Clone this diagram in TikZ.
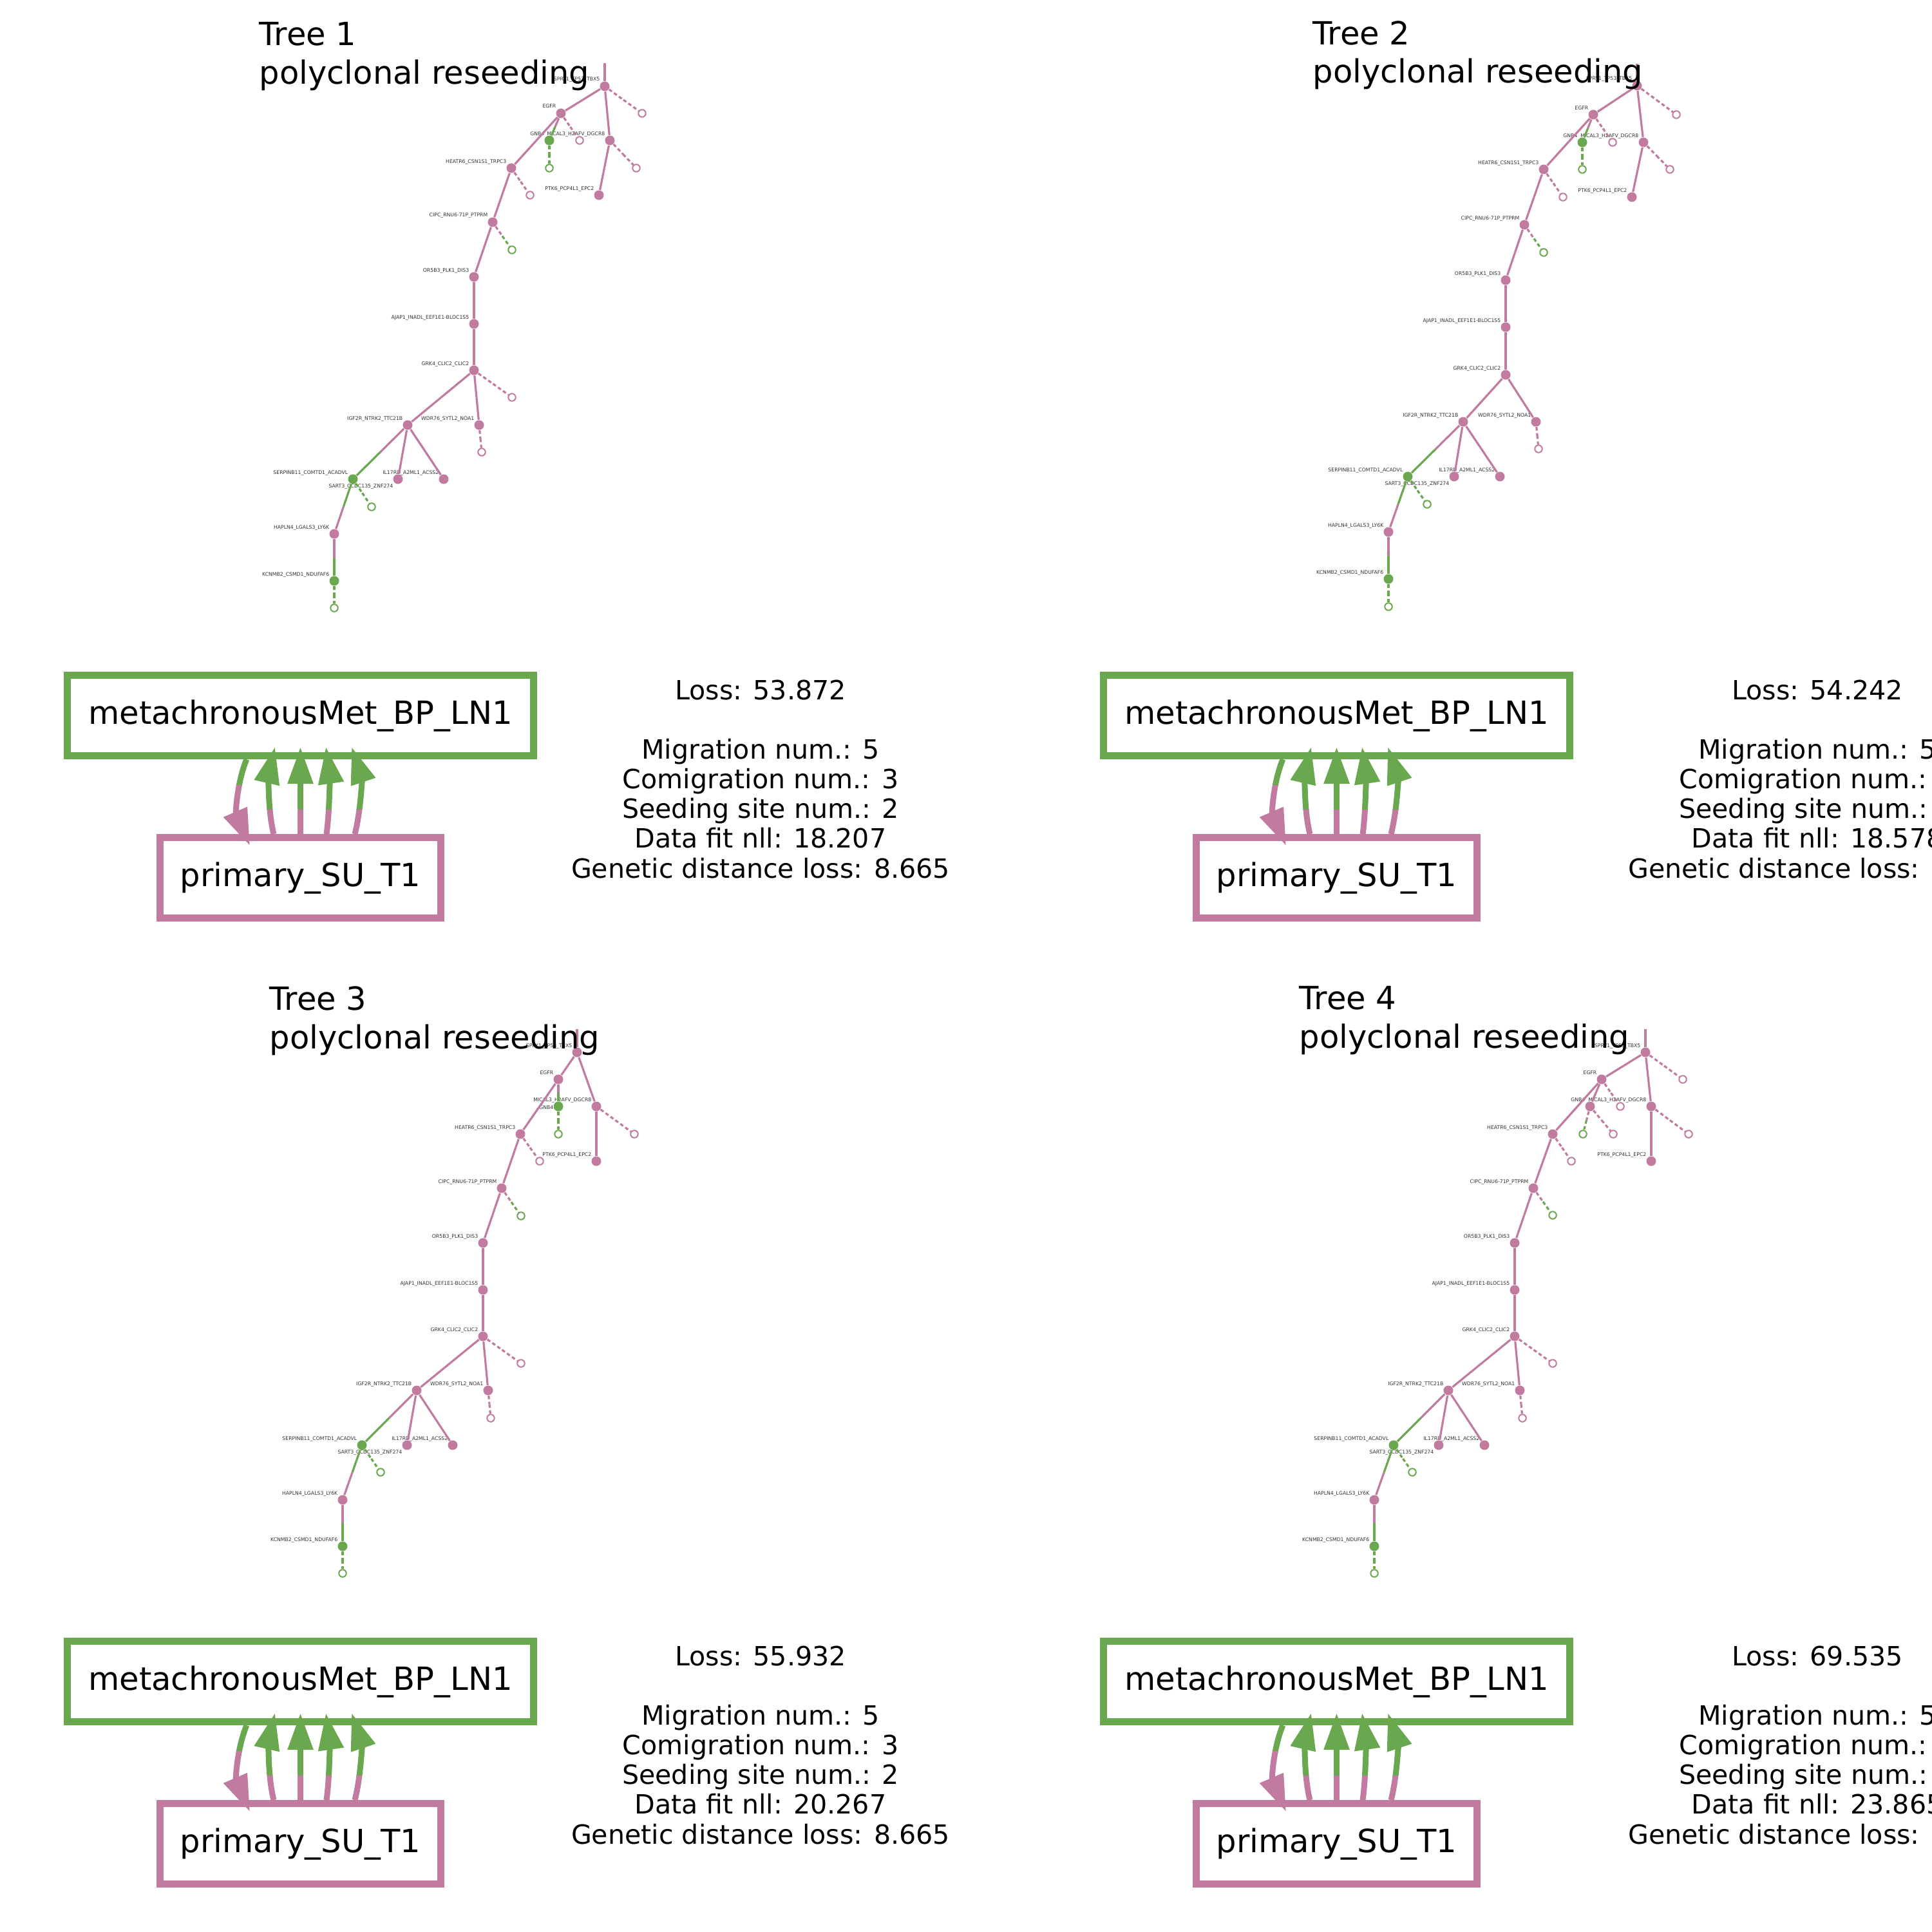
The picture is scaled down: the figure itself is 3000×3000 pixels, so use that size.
\documentclass[tikz,border=0pt]{standalone}
\usepackage{fontspec}
\setmainfont{DejaVu Sans}
\usetikzlibrary{arrows.meta, positioning, calc}
\definecolor{primcol}{HTML}{C27BA0}
\definecolor{metcol}{HTML}{6AA84F}
\pgfdeclarelayer{bg}
\pgfdeclarelayer{lbl}
\pgfdeclarelayer{edge}
\pgfsetlayers{bg,lbl,edge,main}

% gene labels shared by all clone trees
\newcommand{\genelabels}{spry/SPRY1\_TP53\_TBX5, egfr/EGFR, mical/MICAL3\_H2AFV\_DGCR8,
  ptk/PTK6\_PCP4L1\_EPC2, heat/HEATR6\_CSN1S1\_TRPC3, cipc/CIPC\_RNU6-71P\_PTPRM,
  orb/OR5B3\_PLK1\_DIS3, ajap/AJAP1\_INADL\_EEF1E1-BLOC1S5, grk/GRK4\_CLIC2\_CLIC2,
  igf/IGF2R\_NTRK2\_TTC21B, wdr/WDR76\_SYTL2\_NOA1, serp/SERPINB11\_COMTD1\_ACADVL,
  ilr/IL17RD\_A2ML1\_ACSS2, hap/HAPLN4\_LGALS3\_LY6K, kcn/KCNMB2\_CSMD1\_NDUFAF6}

% edge in two halves: from, to, colour of first half, colour of second half, style
\newcommand{\tedge}[5]{%
  \draw[#5,color=#3] (#1) -- ($(#1)!0.5!(#2)$);
  \draw[#5,color=#4] ($(#1)!0.5!(#2)$) -- (#2);}

% labels of a tree: prefix, vertical offset of the GNB4 label
\newcommand{\treelabels}[2]{%
  \begin{pgfonlayer}{lbl}
    \foreach \n/\gene in \genelabels
      \node[genelabel] at ($(#1-\n)+(-7,-8)$) {\gene};
    \node[genelabel] at ($(#1-sart)+(-7,13)$) {SART3\_CCDC135\_ZNF274};
    \node[genelabel] at ($(#1-gnb)+(-7,#2)$) {GNB4};
  \end{pgfonlayer}}

% solid branches of a tree: prefix, colour of GNB4
\newcommand{\treeedges}[2]{%
  \begin{pgfonlayer}{edge}
    \draw[branch,primcol] (#1-root) -- (#1-spry);
    \foreach \pa/\ch/\ca/\cb in {spry/egfr/primcol/primcol, spry/mical/primcol/primcol,
        egfr/gnb/primcol/#2, egfr/heat/primcol/primcol, mical/ptk/primcol/primcol,
        heat/cipc/primcol/primcol, cipc/orb/primcol/primcol, orb/ajap/primcol/primcol,
        ajap/grk/primcol/primcol, grk/igf/primcol/primcol, grk/wdr/primcol/primcol,
        igf/serp/primcol/metcol, igf/sart/primcol/primcol, igf/ilr/primcol/primcol,
        serp/hap/metcol/primcol, hap/kcn/primcol/metcol}
      \tedge{#1-\pa}{#1-\ch}{\ca}{\cb}{branch};
  \end{pgfonlayer}}

% open leaves: prefix, list leaf/parent/x/y/parent colour/leaf colour
\newcommand{\treeleaves}[2]{%
  \foreach \lf/\pa/\x/\y/\cp/\cl in {#2} {
    \node[leaf=\cl] (#1-\lf) at (\x,\y) {};
    \begin{pgfonlayer}{edge}\tedge{#1-\pa}{#1-\lf}{\cp}{\cl}{lost}\end{pgfonlayer}
  }}

% migration arrows between the two sites
\newcommand{\migup}[2]{%
  \foreach \sx/\ex/\ax/\ay/\bx/\by in {-0.415cm/-0.395cm/-11/-45/-8/35,
      0cm/0cm/0/-45/0/45, 0.405cm/0.395cm/6/-45/5/35, 0.845cm/0.795cm/11/-45/15/45}
    \draw[mig,color=#2] ([xshift=\sx]#1-prim.north) .. controls +(\ax,\ay) and +(\bx,\by)
      .. ([xshift=\ex,yshift=0.19cm]#1-met.south);}
\newcommand{\migdown}[2]{%
  \draw[mig,color=#2] ([xshift=-0.835cm]#1-met.south) .. controls +(-15,36) and +(-22,-51)
    .. ([xshift=-0.785cm,yshift=-0.18cm]#1-prim.north);}

% site graph, at the place of the first panel
\newcommand{\migpanel}[1]{%
  \node[site=metcol, minimum width=7.24cm] (#1-met) at (466.5,1111) {metachronousMet\_BP\_LN1};
  \node[site=primcol, minimum width=4.36cm, below=1.16cm of #1-met] (#1-prim) {primary\_SU\_T1};
  \begin{scope}\clip (0,1256) rectangle (1000,1500); \migup{#1}{primcol}\end{scope}
  \begin{scope}\clip (0,1000) rectangle (1000,1256); \migup{#1}{metcol}\end{scope}
  \begin{scope}\clip (0,1218) rectangle (1000,1500); \migdown{#1}{primcol}\end{scope}
  \begin{scope}\clip (0,1000) rectangle (1000,1218); \migdown{#1}{metcol}\end{scope}}

\begin{document}
\begin{tikzpicture}[x=0.01cm, y=-0.01cm,
    clone/.style={circle, fill=#1, inner sep=0pt, minimum size=0.15cm},
    leaf/.style={circle, draw=#1, fill=white, line width=0.02cm, inner sep=0pt, minimum size=0.115cm},
    branch/.style={line width=0.032cm},
    lost/.style={branch, dash pattern=on 0.055cm off 0.04cm},
    genelabel/.style={font=\fontsize{2.2}{2.6}\selectfont, text=black!80, inner sep=0pt, anchor=base east},
    site/.style={draw=#1, line width=0.11cm, minimum height=1.25cm, inner sep=0pt, font=\fontsize{14.1}{16.9}\selectfont},
    mig/.style={line width=0.09cm, -{Triangle[length=0.57cm, width=0.38cm]}},
    title/.style={font=\fontsize{14.1}{16.9}\selectfont, align=left, anchor=base west, inner sep=0pt},
    score/.style={font=\fontsize{11.7}{13.1}\selectfont, align=center, anchor=base, inner sep=0pt}
  ]
  \begin{pgfonlayer}{bg}
    \fill[white] (0,0) rectangle (3000,3000);
  \end{pgfonlayer}
  \useasboundingbox (0,0) rectangle (3000,3000);

  % Tree 1
  \coordinate (t1-root) at (939,98);
  \foreach \n/\x/\y/\col in {spry/939/134/primcol, egfr/871/176/primcol, gnb/853/218/metcol,
      mical/947/218/primcol, ptk/930/303/primcol, heat/794/261/primcol, cipc/765/345/primcol,
      orb/736/430/primcol, ajap/736/503/primcol, grk/736/575/primcol, igf/633/660/primcol,
      wdr/744/660/primcol, serp/548/744/metcol, sart/618/744/primcol, ilr/689/744/primcol,
      hap/519/829/primcol, kcn/519/902/metcol}
    \node[clone=\col] (t1-\n) at (\x,\y) {};
  \treeleaves{t1}{o1/spry/997/176/primcol/primcol, o2/egfr/900/218/primcol/primcol,
      o3/gnb/853/261/metcol/metcol, o4/mical/988/261/primcol/primcol, o5/heat/823/303/primcol/primcol,
      o6/cipc/795/388/primcol/metcol, o7/grk/795/617/primcol/primcol, o8/wdr/748/702/primcol/primcol,
      o9/serp/577/787/metcol/metcol, o10/kcn/519/944/metcol/metcol}
  \treeedges{t1}{metcol}
  \treelabels{t1}{-8}

  % Tree 2
  \coordinate (t2-root) at (2542,99);
  \foreach \n/\x/\y/\col in {spry/2542/133/primcol, egfr/2474/178/primcol, gnb/2457/221/metcol,
      mical/2552/221/primcol, ptk/2534/306/primcol, heat/2397/263/primcol, cipc/2367/349/primcol,
      orb/2338/435/primcol, ajap/2338/508/primcol, grk/2338/582/primcol, igf/2272/655/primcol,
      wdr/2385/655/primcol, serp/2186/740/metcol, sart/2258/740/primcol, ilr/2329/740/primcol,
      hap/2156/826/primcol, kcn/2156/899/metcol}
    \node[clone=\col] (t2-\n) at (\x,\y) {};
  \treeleaves{t2}{o1/spry/2603/178/primcol/primcol, o2/egfr/2504/221/primcol/primcol,
      o3/gnb/2457/263/metcol/metcol, o4/mical/2593/263/primcol/primcol, o5/heat/2427/306/primcol/primcol,
      o6/cipc/2397/392/primcol/metcol, o8/wdr/2389/697/primcol/primcol,
      o9/serp/2216/783/metcol/metcol, o10/kcn/2156/942/metcol/metcol}
  \treeedges{t2}{metcol}
  \treelabels{t2}{-8}

  % Tree 3
  \coordinate (t3-root) at (896,1598);
  \foreach \n/\x/\y/\col in {spry/896/1634/primcol, egfr/867/1676/primcol, gnb/867/1718/metcol,
      mical/926/1718/primcol, ptk/926/1803/primcol, heat/808/1761/primcol, cipc/779/1845/primcol,
      orb/750/1930/primcol, ajap/750/2003/primcol, grk/750/2075/primcol, igf/647/2159/primcol,
      wdr/758/2159/primcol, serp/562/2244/metcol, sart/632/2244/primcol, ilr/703/2244/primcol,
      hap/532/2329/primcol, kcn/532/2401/metcol}
    \node[clone=\col] (t3-\n) at (\x,\y) {};
  \treeleaves{t3}{o3/gnb/867/1761/metcol/metcol, o4/mical/985/1761/primcol/primcol,
      o5/heat/838/1803/primcol/primcol, o6/cipc/809/1888/primcol/metcol, o7/grk/809/2117/primcol/primcol,
      o8/wdr/762/2202/primcol/primcol, o9/serp/591/2286/metcol/metcol, o10/kcn/532/2443/metcol/metcol}
  \treeedges{t3}{metcol}
  \treelabels{t3}{4}

  % Tree 4
  \coordinate (t4-root) at (2555,1598);
  \foreach \n/\x/\y/\col in {spry/2555/1634/primcol, egfr/2487/1676/primcol, gnb/2469/1718/primcol,
      mical/2564/1718/primcol, ptk/2564/1803/primcol, heat/2411/1761/primcol, cipc/2381/1845/primcol,
      orb/2352/1930/primcol, ajap/2352/2003/primcol, grk/2352/2075/primcol, igf/2249/2159/primcol,
      wdr/2360/2159/primcol, serp/2164/2244/metcol, sart/2234/2244/primcol, ilr/2305/2244/primcol,
      hap/2134/2329/primcol, kcn/2134/2401/metcol}
    \node[clone=\col] (t4-\n) at (\x,\y) {};
  \treeleaves{t4}{o1/spry/2613/1676/primcol/primcol, o2/egfr/2516/1718/primcol/primcol,
      o3/gnb/2458/1761/primcol/metcol, o11/gnb/2505/1761/primcol/primcol, o4/mical/2622/1761/primcol/primcol,
      o5/heat/2440/1803/primcol/primcol, o6/cipc/2411/1887/primcol/metcol, o7/grk/2411/2117/primcol/primcol,
      o8/wdr/2364/2202/primcol/primcol, o9/serp/2193/2286/metcol/metcol, o10/kcn/2134/2443/metcol/metcol}
  \treeedges{t4}{primcol}
  \treelabels{t4}{-8}

  % site graphs
  \migpanel{m1}
  \begin{scope}[shift={(1609,0)}] \migpanel{m2} \end{scope}
  \begin{scope}[shift={(0,1500)}] \migpanel{m3} \end{scope}
  \begin{scope}[shift={(1609,1500)}] \migpanel{m4} \end{scope}

  % scores (anchored on the last line)
  \node[score] (t1-score) at (1181,1363) {Loss: 53.872\\[13.1pt]Migration num.: 5\\Comigration num.: 3\\Seeding site num.: 2\\Data fit nll: 18.207\\Genetic distance loss: 8.665};
  \node[score] (t2-score) at (2822,1363) {Loss: 54.242\\[13.1pt]Migration num.: 5\\Comigration num.: 3\\Seeding site num.: 2\\Data fit nll: 18.578\\Genetic distance loss: 8.665};
  \node[score] (t3-score) at (1181,2863) {Loss: 55.932\\[13.1pt]Migration num.: 5\\Comigration num.: 3\\Seeding site num.: 2\\Data fit nll: 20.267\\Genetic distance loss: 8.665};
  \node[score] (t4-score) at (2822,2863) {Loss: 69.535\\[13.1pt]Migration num.: 5\\Comigration num.: 3\\Seeding site num.: 2\\Data fit nll: 23.865\\Genetic distance loss: 8.665};

  % titles (anchored on the second line)
  \node[title] (t1-title) at (402,130) {Tree 1\\polyclonal reseeding};
  \node[title] (t2-title) at (2038,129) {Tree 2\\polyclonal reseeding};
  \node[title] (t3-title) at (418,1628) {Tree 3\\polyclonal reseeding};
  \node[title] (t4-title) at (2017,1627) {Tree 4\\polyclonal reseeding};
\end{tikzpicture}
\end{document}
